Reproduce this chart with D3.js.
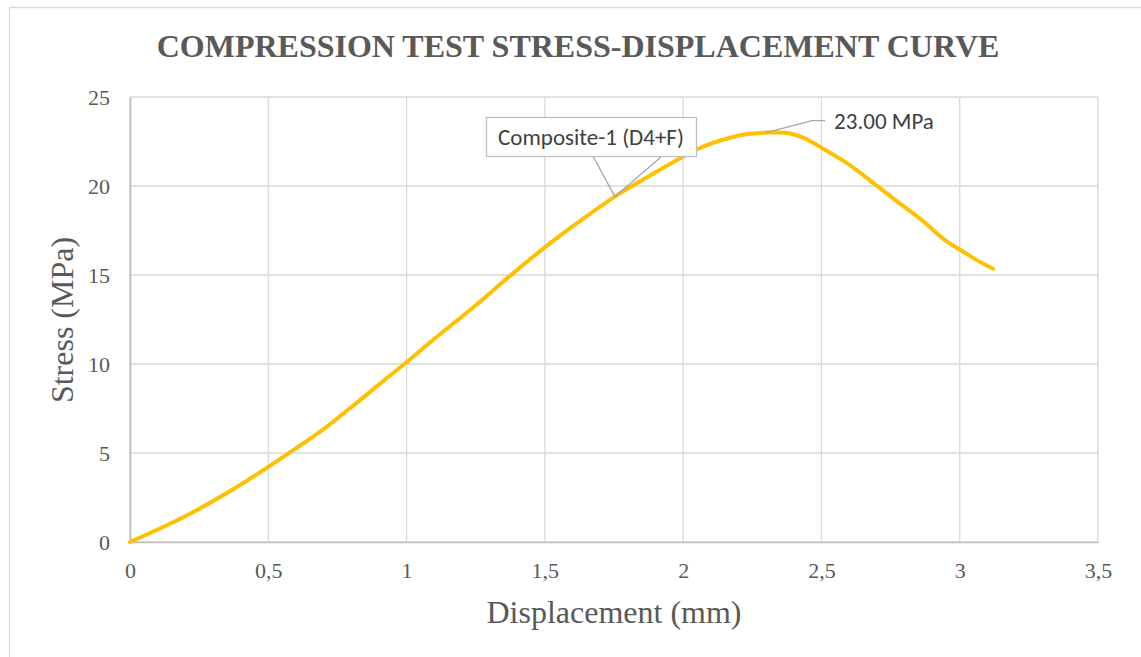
<!DOCTYPE html>
<meta charset="utf-8">
<head>
  <title>Compression test</title>
</head>
<style>
  body { margin: 0; background: #fff; }
  .grid line { stroke: #d9d9d9; stroke-width: 1.3px; }
  .tick text { font-family: "Liberation Serif", "Times New Roman", serif; font-size: 22px; fill: #595959; }
  .curve { fill: none; stroke: #ffc000; stroke-width: 4px; stroke-linejoin: round; stroke-linecap: round; }
  .leader { fill: none; stroke: #a6a6a6; stroke-width: 1.3px; }
</style>
<body>
<svg width="1141" height="657"></svg>
<script src="https://cdn.jsdelivr.net/npm/d3@7"></script>
<script>
// values
var displacement = [0, 0.10, 0.20, 0.35, 0.50, 0.585, 0.705, 0.826, 0.928, 0.976, 1.10, 1.25, 1.374, 1.50, 1.62, 1.753, 1.856, 1.988, 2.049, 2.169, 2.24, 2.30, 2.35, 2.386, 2.43, 2.47, 2.506, 2.591, 2.687, 2.772, 2.868, 2.952, 3.00, 3.06, 3.121];
var stress = [0, 0.70, 1.45, 2.75, 4.22, 5.1, 6.4, 7.9, 9.2, 9.8, 11.4, 13.3, 14.95, 16.55, 17.95, 19.4, 20.37, 21.55, 22.05, 22.71, 22.93, 23.00, 23.00, 22.95, 22.75, 22.43, 22.09, 21.3, 20.18, 19.15, 18.02, 16.9, 16.43, 15.85, 15.35];
var xTicks = [0, 0.5, 1, 1.5, 2, 2.5, 3, 3.5];
var yTicks = [0, 5, 10, 15, 20, 25];
var titleText = "COMPRESSION TEST STRESS-DISPLACEMENT CURVE";
var seriesLabel = "Composite-1 (D4+F)";
var peakLabel = "23.00 MPa";

var margin = {top: 97, right: 43, bottom: 115, left: 130},
    width = 1141 - margin.left - margin.right,
    height = 657 - margin.top - margin.bottom;

var svg = d3.select("svg");

// chart frame
svg.append("path")
    .attr("d", "M9.5,700 L9.5,7.5 L1200,7.5")
    .attr("fill", "none")
    .attr("stroke", "#d9d9d9")
    .attr("stroke-width", 1.3);

svg.append("text")
    .attr("x", 578).attr("y", 57)
    .attr("text-anchor", "middle")
    .style("font-family", "'Liberation Serif', 'Times New Roman', serif")
    .style("font-weight", "bold")
    .style("font-size", "32px")
    .style("fill", "#595959")
    .text(titleText);

var g = svg.append("g")
    .attr("transform", "translate(" + margin.left + "," + margin.top + ")");

var x = d3.scaleLinear().domain([0, 3.5]).range([0, width]);
var y = d3.scaleLinear().domain([0, 25]).range([height, 0]);

// gridlines
var grid = g.append("g").attr("class", "grid");
grid.selectAll(".h").data(yTicks).enter().append("line")
    .attr("x1", 0).attr("x2", width)
    .attr("y1", function(d) { return y(d); }).attr("y2", function(d) { return y(d); });
grid.selectAll(".v").data(xTicks).enter().append("line")
    .attr("y1", 0).attr("y2", height)
    .attr("x1", function(d) { return x(d); }).attr("x2", function(d) { return x(d); });

// axes
var comma = function(d) { return String(d).replace(".", ","); };
var xAxis = g.append("g")
    .attr("transform", "translate(0," + height + ")")
    .call(d3.axisBottom(x).tickValues(xTicks).tickSize(0).tickPadding(20).tickFormat(comma));
xAxis.select(".domain").attr("stroke", "#bfbfbf").attr("stroke-width", 1.6);

var yAxis = g.append("g")
    .call(d3.axisLeft(y).tickValues(yTicks).tickSize(0).tickPadding(20));
yAxis.select(".domain").attr("stroke", "#bfbfbf").attr("stroke-width", 1.6);

// axis titles
svg.append("text")
    .attr("x", 614).attr("y", 623)
    .attr("text-anchor", "middle")
    .style("font-family", "'Liberation Serif', 'Times New Roman', serif")
    .style("font-size", "32px")
    .style("fill", "#595959")
    .text("Displacement (mm)");

svg.append("text")
    .attr("transform", "translate(73,320) rotate(-90)")
    .attr("text-anchor", "middle")
    .style("font-family", "'Liberation Serif', 'Times New Roman', serif")
    .style("font-size", "32px")
    .style("fill", "#595959")
    .text("Stress (MPa)");

// the curve
var pts = displacement.map(function(d, i) { return [d, stress[i]]; });
var line = d3.line()
    .curve(d3.curveMonotoneX)
    .x(function(d) { return x(d[0]); })
    .y(function(d) { return y(d[1]); });

g.append("path")
    .datum(pts)
    .attr("class", "curve")
    .attr("d", line);

// series name callout at x = 1.753
var cp = pts[15];
var cx = x(cp[0]), cy = y(cp[1]);
var box = {x: 486 - margin.left, y: 117 - margin.top, w: 210, h: 39};
g.append("path")
    .attr("class", "leader")
    .attr("d", "M" + (box.x + 107) + "," + (box.y + box.h) + " L" + cx + "," + cy + " L" + (box.x + 176) + "," + (box.y + box.h));
g.append("rect")
    .attr("x", box.x + 0.5).attr("y", box.y + 0.5)
    .attr("width", box.w).attr("height", box.h)
    .attr("fill", "#fff")
    .attr("stroke", "#bfbfbf")
    .attr("stroke-width", 1.3);
g.append("text")
    .attr("x", box.x + box.w / 2).attr("y", box.y + box.h / 2 + 8)
    .attr("text-anchor", "middle")
    .style("font-family", "Carlito, 'Open Sans', sans-serif")
    .style("font-size", "23px")
    .style("fill", "#404040")
    .text(seriesLabel);

// peak label
var pk = pts[21];
var px = x(pk[0]), py = y(pk[1]);
g.append("path")
    .attr("class", "leader")
    .attr("d", "M" + px + "," + py + " L" + (px + 46) + "," + (py - 12) + " L" + (px + 59) + "," + (py - 12));
g.append("text")
    .attr("x", px + 68).attr("y", py - 4)
    .style("font-family", "Carlito, 'Open Sans', sans-serif")
    .style("font-size", "23px")
    .style("fill", "#404040")
    .text(peakLabel);
</script>
</body>
</html>
